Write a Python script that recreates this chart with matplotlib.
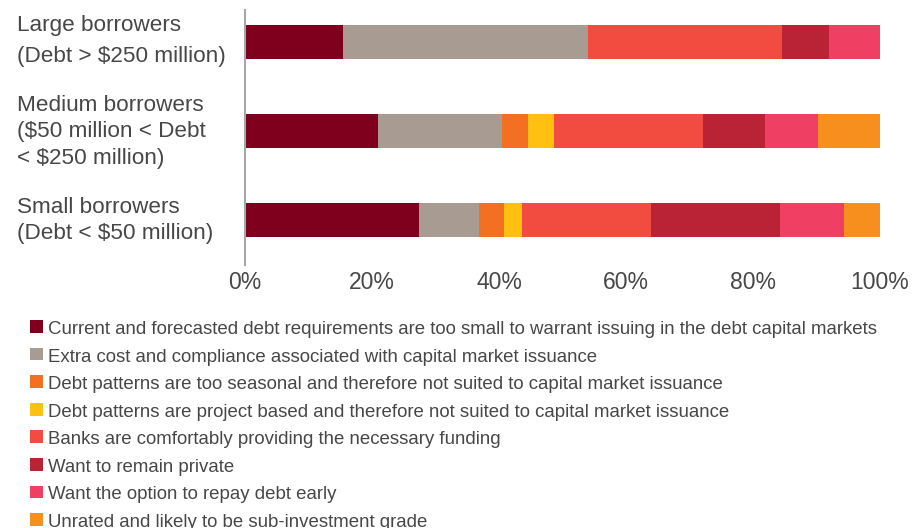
import matplotlib
matplotlib.use("Agg")
import matplotlib.pyplot as plt
from matplotlib.patches import Rectangle
from matplotlib import transforms
import numpy as np

plt.rcParams['font.family'] = ['Liberation Sans', 'DejaVu Sans']

# Borrower groups (top to bottom)
groups = [
    "Large borrowers\n(Debt > $250 million)",
    "Medium borrowers\n($50 million < Debt\n< $250 million)",
    "Small borrowers\n(Debt < $50 million)",
]

reasons = [
    "Current and forecasted debt requirements are too small to warrant issuing in the debt capital markets",
    "Extra cost and compliance associated with capital market issuance",
    "Debt patterns are too seasonal and therefore not suited to capital market issuance",
    "Debt patterns are project based and therefore not suited to capital market issuance",
    "Banks are comfortably providing the necessary funding",
    "Want to remain private",
    "Want the option to repay debt early",
    "Unrated and likely to be sub-investment grade",
]

# Share of respondents (%) per reason, one list per reason, ordered as groups
too_small = [15.5, 21.0, 27.4]
extra_cost = [38.5, 19.5, 9.5]
seasonal = [0.0, 4.1, 3.9]
project_based = [0.0, 4.0, 2.9]
banks_funding = [30.5, 23.6, 20.3]
remain_private = [7.5, 9.7, 20.2]
repay_early = [8.0, 8.4, 10.2]
unrated = [0.0, 9.7, 5.6]

series = [too_small, extra_cost, seasonal, project_based,
          banks_funding, remain_private, repay_early, unrated]

colors = ["#7F001C", "#A89C92", "#F36F21", "#FFC011",
          "#F24C41", "#BA2236", "#EF3F62", "#F78F1F"]

x_ticks = [0, 20, 40, 60, 80, 100]
x_tick_labels = ["0%", "20%", "40%", "60%", "80%", "100%"]

text_color = "#474747"

W, H = 914, 528
fig = plt.figure(figsize=(W / 100, H / 100), dpi=100)
ax = fig.add_axes([245 / W, 1 - 265 / H, 635 / W, 255 / H])

ypos = np.arange(len(groups))
left = np.zeros(len(groups))
for vals, col in zip(series, colors):
    vals = np.array(vals)
    ax.barh(ypos, vals, left=left, height=0.39, color=col, edgecolor="none")
    left += vals

ax.set_xlim(0, 100)
ax.set_ylim(2.506, -0.36)
ax.set_xticks(x_ticks)
ax.set_xticklabels(x_tick_labels, fontsize=16.5, color=text_color)
ax.set_yticks([])
ax.tick_params(axis="x", length=0, pad=4)
for s in ["top", "right", "bottom"]:
    ax.spines[s].set_visible(False)
ax.spines["left"].set_color("#A6A6A6")
ax.spines["left"].set_linewidth(1.5)

# Group labels, placed line by line relative to each bar centre
first_baseline = [-11.3, -20.3, -6.7]   # px from bar centre
line_step = [31.3, 26.7, 26.0]           # px between lines
for i, label in enumerate(groups):
    for j, line in enumerate(label.split("\n")):
        dy = first_baseline[i] + j * line_step[i]
        tr = transforms.blended_transform_factory(fig.transFigure, ax.transData) + \
            transforms.ScaledTranslation(0, -dy / 100, fig.dpi_scale_trans)
        ax.text(17 / W, ypos[i], line, transform=tr, ha="left", va="baseline",
                fontsize=16.2, color=text_color, clip_on=False)

# Legend
row0, row_step = 326.5, 27.57
for k, (name, col) in enumerate(zip(reasons, colors)):
    cy = row0 + k * row_step
    fig.patches.append(Rectangle((30 / W, 1 - (cy + 6.3) / H), 12.7 / W, 12.7 / H,
                                 transform=fig.transFigure, facecolor=col,
                                 edgecolor="none"))
    fig.text(47.7 / W, 1 - (cy + 7.5) / H, name, ha="left", va="baseline",
             fontsize=13.4, color=text_color)

fig.savefig("out.png", dpi=100)
